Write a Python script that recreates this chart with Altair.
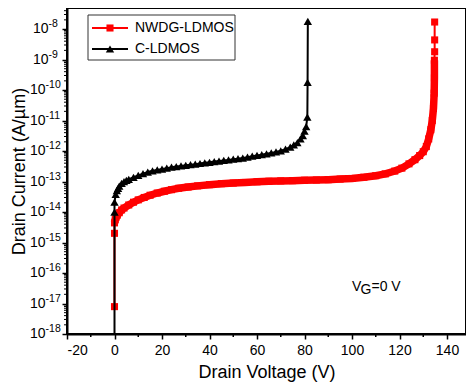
import altair as alt
import pandas as pd

# ---------------- data ----------------
red_v = [0, 0, 0, 0.3, 0.7, 1.2, 2, 3, 4, 6, 8, 10, 12.5, 15, 18, 21, 24, 27, 31, 35,
         40, 45, 50, 55, 60, 65, 70, 75, 80, 85, 90, 95, 100, 105, 110, 114, 118, 121,
         124, 126.5, 128.5, 130, 131.3, 132.3, 133.2, 133.8, 134.3, 134.6, 134.7, 134.7,
         134.8, 134.8, 134.8]
red_i = [7.9e-18, 2.0e-15, 4.4e-15, 5.6e-15, 6.8e-15, 7.9e-15, 9.5e-15, 1.17e-14, 1.35e-14,
         1.7e-14, 2.1e-14, 2.5e-14, 3.0e-14, 3.55e-14, 4.2e-14, 4.8e-14, 5.4e-14, 6.0e-14,
         6.6e-14, 7.2e-14, 7.9e-14, 8.5e-14, 8.9e-14, 9.3e-14, 9.8e-14, 1.02e-13, 1.05e-13,
         1.07e-13, 1.10e-13, 1.12e-13, 1.15e-13, 1.20e-13, 1.26e-13, 1.38e-13, 1.55e-13,
         1.78e-13, 2.2e-13, 2.75e-13, 3.8e-13, 5.2e-13, 7.1e-13, 9.5e-13, 1.4e-12, 2.5e-12,
         5.0e-12, 1.0e-11, 2.5e-11, 7.9e-11, 2.5e-10, 9.5e-10, 1.8e-9, 4.4e-9, 1.7e-8]

black_v = [0, 0, 0, 0.5, 1, 1.5, 2, 3, 4, 5, 6, 8, 10, 12, 14, 16, 18, 20, 22, 24, 26, 28,
           30, 32, 34, 36, 38, 40, 42, 44, 46, 48, 50, 52, 54, 56, 58, 60, 62, 64, 66, 68,
           70, 72, 74, 75.5, 77, 78.3, 79.3, 80.0, 80.7, 81.2, 81.3, 81.4]
black_i = [1e-19, 1.0e-14, 2.1e-14, 3.8e-14, 5.0e-14, 6.0e-14, 7.1e-14, 8.7e-14, 1.0e-13,
           1.1e-13, 1.17e-13, 1.38e-13, 1.58e-13, 1.82e-13, 2.04e-13, 2.24e-13, 2.4e-13,
           2.57e-13, 2.75e-13, 2.95e-13, 3.1e-13, 3.24e-13, 3.4e-13, 3.55e-13, 3.7e-13,
           3.9e-13, 4.1e-13, 4.25e-13, 4.5e-13, 4.7e-13, 4.9e-13, 5.1e-13, 5.4e-13, 5.6e-13,
           5.9e-13, 6.3e-13, 6.8e-13, 7.2e-13, 7.6e-13, 8.1e-13, 8.7e-13, 9.3e-13, 1.02e-12,
           1.15e-12, 1.35e-12, 1.6e-12, 1.9e-12, 2.5e-12, 3.2e-12, 4.5e-12, 6.3e-12, 1.3e-11,
           1.8e-10, 1.8e-8]

series_names = ["NWDG-LDMOS", "C-LDMOS"]
x_major = [-20, 0, 20, 40, 60, 80, 100, 120, 140]
x_minor = [-10, 10, 30, 50, 70, 90, 110, 130]
y_exps = [-18, -17, -16, -15, -14, -13, -12, -11, -10, -9, -8]
annot_x = [100]
annot_y = [3.5e-17]

# ---------------- styling ----------------
RED = "#ff0000"
FONT = "Liberation Sans"
W, H = 399, 326

x_scale = alt.Scale(domain=[-20, 148], nice=False, zero=False)
y_scale = alt.Scale(type="log", domain=[1e-18, 4.9e-8], nice=False)

red = pd.DataFrame({"V": red_v, "I": red_i, "k": list(range(len(red_v)))})
black = pd.DataFrame({"V": black_v, "I": black_i, "k": list(range(len(black_v)))})
band = red.iloc[2:-3]

y_major = [10.0 ** e for e in y_exps]
y_minor = [m * 10.0 ** e for e in y_exps for m in range(2, 10) if m * 10.0 ** e < 4.9e-8]

x_axis = alt.Axis(values=x_major, title="Drain Voltage (V)", labelPadding=4, titlePadding=6,
                  labelExpr="replace(datum.label, '\u2212', '-')")
y_axis = alt.Axis(values=y_major, labels=False, title="Drain Current (A/\u00b5m)", titlePadding=33)

Xn = alt.X("V:Q", scale=x_scale, axis=x_axis)
Yn = alt.Y("I:Q", scale=y_scale, axis=y_axis)
O = alt.Order("k:Q")

band_layer = alt.Chart(band).mark_line(color=RED, strokeWidth=7.5, clip=True).encode(x=Xn, y=Yn, order=O)
red_line = alt.Chart(red).mark_line(color=RED, strokeWidth=2, clip=True).encode(x=Xn, y=Yn, order=O)
red_pts = alt.Chart(red).mark_square(color=RED, size=50, opacity=1, clip=True).encode(x=Xn, y=Yn)
blk_line = alt.Chart(black).mark_line(color="black", strokeWidth=2, clip=True).encode(x=Xn, y=Yn, order=O)
blk_pts = alt.Chart(black).mark_point(shape="triangle-up", filled=True, color="black", size=70,
                                      opacity=1, clip=True).encode(x=Xn, y=Yn)

# minor ticks
xm = alt.Chart(pd.DataFrame({"V": x_minor})).mark_rule(color="black", strokeWidth=1.5).encode(
    x=Xn, y=alt.value(H), y2=alt.value(H + 3))
ym = alt.Chart(pd.DataFrame({"I": y_minor})).mark_rule(color="black", strokeWidth=1).encode(
    y=Yn, x=alt.value(-3), x2=alt.value(0))

# y tick labels with superscript exponents
one = pd.DataFrame({"I": [10.0 ** e for e in y_exps if e > -10],
                    "t": [str(e) for e in y_exps if e > -10]})
two = pd.DataFrame({"I": [10.0 ** e for e in y_exps if e <= -10],
                    "t": [str(e) for e in y_exps if e <= -10]})
lab_layers = []
for df, bx in [(one, -34), (two, -37)]:
    lab_layers.append(alt.Chart(df).mark_text(align="left", baseline="middle", fontSize=14,
                                              font=FONT, color="black").encode(
        x=alt.value(bx), y=Yn, text=alt.value("10")))
    lab_layers.append(alt.Chart(df).mark_text(align="left", baseline="middle", fontSize=10.5,
                                              font=FONT, color="black", dy=-5).encode(
        x=alt.value(bx + 15.6), y=Yn, text="t:N"))

# legend
one_row = pd.DataFrame({"a": [0]})
leg_box = alt.Chart(one_row).mark_rect(fill="white", stroke="#333333", strokeWidth=1).encode(
    x=alt.value(21), x2=alt.value(168), y=alt.value(7), y2=alt.value(52))
leg = [leg_box]
for name, col, shape, size, yy in [(series_names[0], RED, "square", 50, 20),
                                   (series_names[1], "black", "triangle-up", 70, 41)]:
    leg.append(alt.Chart(one_row).mark_rule(color=col, strokeWidth=2).encode(
        x=alt.value(25), x2=alt.value(61), y=alt.value(yy)))
    leg.append(alt.Chart(one_row).mark_point(shape=shape, filled=True, color=col, size=size,
                                             opacity=1).encode(x=alt.value(43), y=alt.value(yy)))
    leg.append(alt.Chart(one_row).mark_text(align="left", baseline="middle", fontSize=14,
                                            font=FONT, color="black").encode(
        x=alt.value(68), y=alt.value(yy), text=alt.value(name)))

# annotation V_G = 0 V
ann = pd.DataFrame({"V": annot_x, "I": annot_y})
ann_layers = [
    alt.Chart(ann).mark_text(align="left", baseline="middle", fontSize=14, font=FONT,
                             color="black").encode(x=Xn, y=Yn, text=alt.value("V")),
    alt.Chart(ann).mark_text(align="left", baseline="middle", fontSize=14, font=FONT,
                             color="black", dx=8.5, dy=3).encode(x=Xn, y=Yn, text=alt.value("G")),
    alt.Chart(ann).mark_text(align="left", baseline="middle", fontSize=14, font=FONT,
                             color="black", dx=19.5).encode(x=Xn, y=Yn, text=alt.value("=0 V")),
]

chart = alt.layer(band_layer, red_line, red_pts, blk_line, blk_pts, xm, ym,
                  *lab_layers, *leg, *ann_layers).properties(
    width=W, height=H,
    padding={"left": 59, "top": 0, "right": 0, "bottom": 53},
    autosize=alt.AutoSizeParams(type="none"),
    background="white",
).configure_view(stroke="black", strokeWidth=2).configure_axis(
    domainColor="black", domainWidth=2, tickColor="black", tickWidth=1.5, tickSize=5,
    labelFont=FONT, labelFontSize=14, labelColor="black", titleFont=FONT, titleFontSize=18,
    titleFontWeight="normal", titleColor="black", grid=False,
)

chart.save("out.html", embed_options={"renderer": "svg", "actions": False})
